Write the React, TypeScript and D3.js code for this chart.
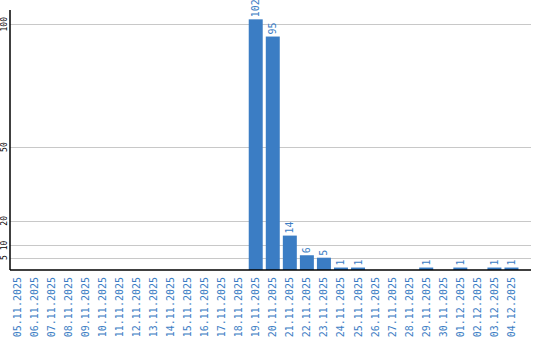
import React from "react";
import * as d3 from "d3";

const categories = [
  "05.11.2025","06.11.2025","07.11.2025","08.11.2025","09.11.2025","10.11.2025",
  "11.11.2025","12.11.2025","13.11.2025","14.11.2025","15.11.2025","16.11.2025",
  "17.11.2025","18.11.2025","19.11.2025","20.11.2025","21.11.2025","22.11.2025",
  "23.11.2025","24.11.2025","25.11.2025","26.11.2025","27.11.2025","28.11.2025",
  "29.11.2025","30.11.2025","01.12.2025","02.12.2025","03.12.2025","04.12.2025",
];
const values = [
  0,0,0,0,0,0,0,0,0,0,0,0,0,0,102,95,14,6,5,1,1,0,0,0,1,0,1,0,1,1,
];
const yTicks = [5, 10, 20, 50, 100];

const W = 540, H = 340;
const left = 10, top = 10, bottom = 270, axisRight = 531;
const BLUE = "#3b7dc4";
const FONT = "'DejaVu Sans Mono', monospace";

export default function App() {
  const x = d3.scaleBand<string>().domain(categories).range([8.5, 8.5 + 17.05 * categories.length]).paddingInner(0.18).paddingOuter(0.09);
  const y = d3.scaleLinear().domain([0, 105.8]).range([bottom, top]);
  return (
    <svg width={W} height={H} style={{ position: "absolute", left: 0, top: 0 }}>
      <rect width={W} height={H} fill="#fff" />
      {yTicks.map((t) => (
        <g key={t}>
          <line x1={left} x2={axisRight} y1={Math.round(y(t)) + 0.5} y2={Math.round(y(t)) + 0.5} stroke="#c8c8c8" strokeWidth={1} />
          <text transform={`translate(7,${y(t)}) rotate(-90)`} textAnchor="middle" fontFamily={FONT} fontSize={8} fill="#000">{t}</text>
        </g>
      ))}
      {categories.map((c, i) => {
        const v = values[i];
        const cx = (x(c) as number) + x.bandwidth() / 2;
        return (
          <g key={c}>
            {v > 0 && (
              <rect x={x(c)} y={y(v)} width={x.bandwidth()} height={bottom - y(v)} fill={BLUE} />
            )}
            {v > 0 && (
              <text transform={`translate(${cx},${y(v) - 2}) rotate(-90)`} textAnchor="start" dy="0.35em" fontFamily={FONT} fontSize={10} fill={BLUE}>{v}</text>
            )}
            <text transform={`translate(${cx},277) rotate(-90)`} textAnchor="end" dy="0.35em" fontFamily={FONT} fontSize={10} fill={BLUE}>{c}</text>
          </g>
        );
      })}
      <line x1={left} x2={left} y1={top} y2={bottom} stroke="#000" strokeWidth={1.5} />
      <line x1={left} x2={axisRight} y1={bottom} y2={bottom} stroke="#000" strokeWidth={1.5} />
    </svg>
  );
}
